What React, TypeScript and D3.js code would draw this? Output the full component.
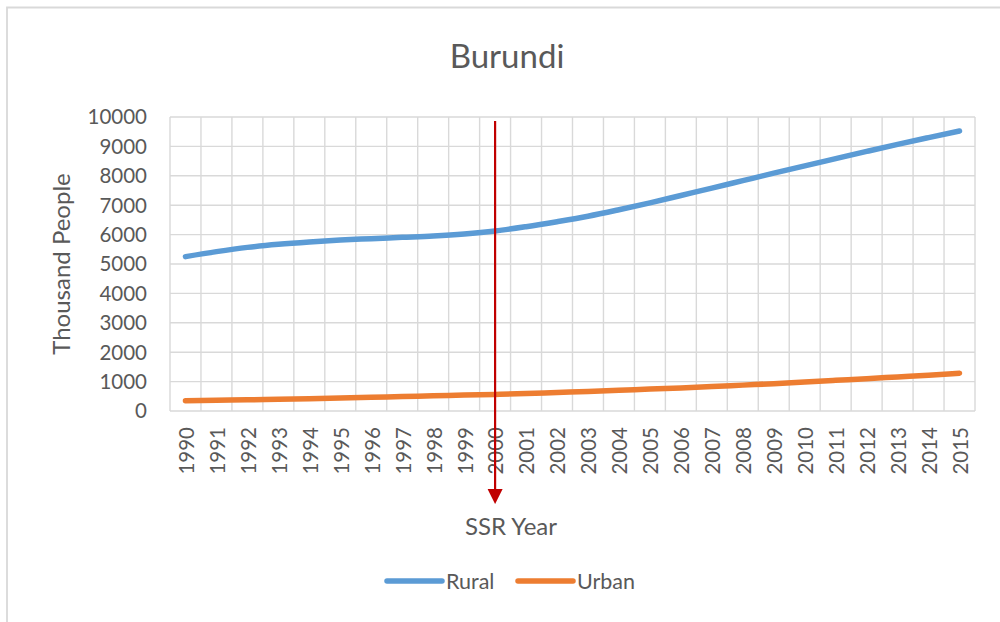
import React from "react";
import * as d3 from "d3";

const years: string[] = [
  "1990","1991","1992","1993","1994","1995","1996","1997","1998","1999",
  "2000","2001","2002","2003","2004","2005","2006","2007","2008","2009",
  "2010","2011","2012","2013","2014","2015",
];
const rural: number[] = [
  5250, 5420, 5565, 5670, 5750, 5815, 5862, 5907, 5952, 6020,
  6122, 6270, 6440, 6625, 6845, 7080, 7330, 7580, 7835, 8090,
  8340, 8585, 8830, 9070, 9300, 9525,
];
const urban: number[] = [
  350, 365, 380, 400, 420, 440, 465, 490, 515, 540,
  565, 595, 630, 665, 705, 745, 785, 830, 880, 930,
  990, 1045, 1100, 1160, 1220, 1285,
];
const yTicks: number[] = [0,1000,2000,3000,4000,5000,6000,7000,8000,9000,10000];
const seriesNames: string[] = ["Rural", "Urban"];
const seriesColors: string[] = ["#5B9BD5", "#ED7D31"];
const markerYear = "2000";

const FONT = "Lato, 'Open Sans', sans-serif";
const TEXT = "#595959";
const GRID = "#D9D9D9";

export default function App() {
  const left = 170, right = 975, top = 117, bottom = 411;
  const x = d3.scaleBand<string>().domain(years).range([left, right]).padding(0);
  const y = d3.scaleLinear().domain([0, 10000]).range([bottom, top]);
  const cx = (yr: string) => (x(yr) as number) + x.bandwidth() / 2;
  const line = d3
    .line<number>()
    .x((_, i) => cx(years[i]))
    .y((d) => y(d))
    .curve(d3.curveMonotoneX);
  const data = [rural, urban];
  const vx = years.map((yr) => x(yr) as number).concat([right]);
  const ax = cx(markerYear);

  return (
    <svg width={1000} height={622} style={{ position: "absolute", left: 0, top: 0, background: "#fff" }} fontFamily={FONT}>
      <rect x={0} y={0} width={1000} height={622} fill="#fff" />
      <path d="M7,622 L7,7.5 L1000,7.5" fill="none" stroke={GRID} strokeWidth={1.8} />
      <text x={507} y={68} textAnchor="middle" fontSize={33} fill={TEXT}>Burundi</text>

      {yTicks.map((t) => (
        <line key={"h" + t} x1={left} x2={right} y1={y(t)} y2={y(t)} stroke={GRID} strokeWidth={1.4} />
      ))}
      {vx.map((v, i) => (
        <line key={"v" + i} x1={v} x2={v} y1={top} y2={bottom} stroke={GRID} strokeWidth={1.4} />
      ))}

      {yTicks.map((t) => (
        <text key={"yt" + t} x={147} y={y(t)} dy="0.36em" textAnchor="end" fontSize={20.5} fill={TEXT}>{t}</text>
      ))}
      {years.map((yr) => (
        <text
          key={"xt" + yr}
          transform={`translate(${cx(yr) + 1},427) rotate(-90)`}
          dy="0.36em"
          textAnchor="end"
          fontSize={20.5}
          fill={TEXT}
        >{yr}</text>
      ))}

      <text transform="translate(70,264) rotate(-90)" textAnchor="middle" fontSize={24} fill={TEXT}>Thousand People</text>
      <text x={511} y={535} textAnchor="middle" fontSize={24} fill={TEXT}>SSR Year</text>

      {data.map((d, i) => (
        <path key={"s" + i} d={line(d) || ""} fill="none" stroke={seriesColors[i]} strokeWidth={5.5} strokeLinecap="round" strokeLinejoin="round" />
      ))}

      <line x1={ax} x2={ax} y1={121} y2={490} stroke="#C00000" strokeWidth={2.2} />
      <path d={`M${ax - 7.5},489 L${ax + 7.5},489 L${ax},504 Z`} fill="#C00000" />

      <line x1={387} x2={442} y1={581} y2={581} stroke={seriesColors[0]} strokeWidth={5.5} strokeLinecap="round" />
      <text x={446} y={589} fontSize={21.5} fill={TEXT}>{seriesNames[0]}</text>
      <line x1={518} x2={573} y1={581} y2={581} stroke={seriesColors[1]} strokeWidth={5.5} strokeLinecap="round" />
      <text x={577} y={589} fontSize={21.5} fill={TEXT}>{seriesNames[1]}</text>
    </svg>
  );
}
